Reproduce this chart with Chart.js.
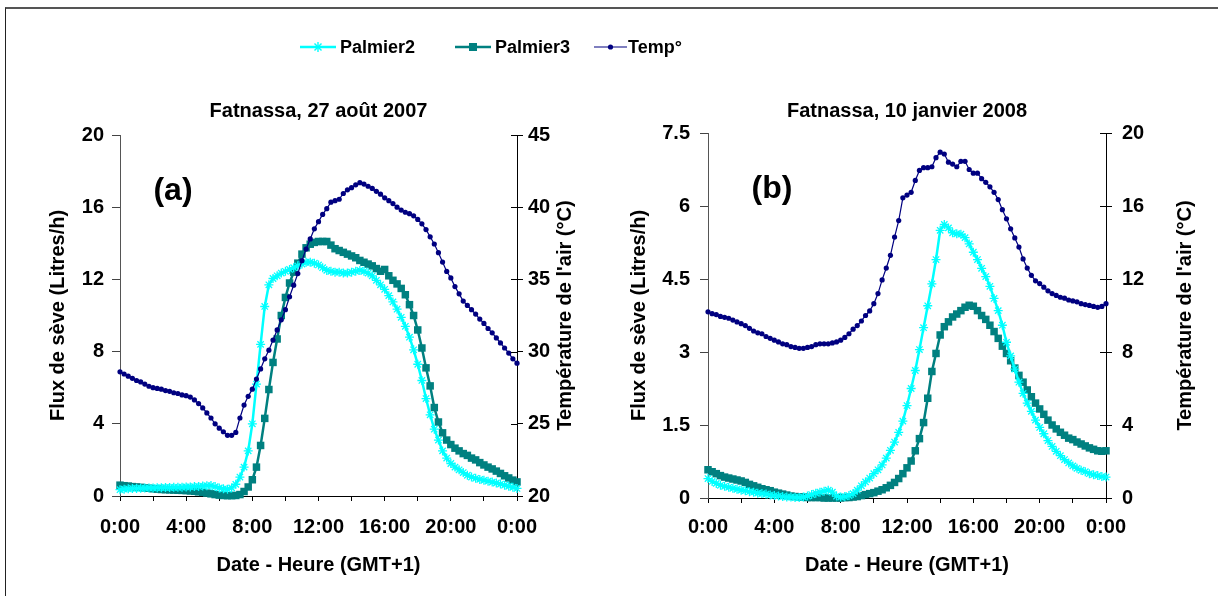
<!DOCTYPE html>
<html>
<head>
<meta charset="utf-8">
<script src="https://cdn.jsdelivr.net/npm/chart.js@4.4.0/dist/chart.umd.min.js"></script>
<style>
  body { margin:0; background:#fff; width:1218px; height:596px; overflow:hidden; position:relative; font-family:"Liberation Sans", Arial, sans-serif; }
  #cadre { position:absolute; left:5px; top:7px; width:1300px; height:700px; border-left:1px solid #222; border-top:2px solid #555; }
  canvas { position:absolute; top:0; }
  #g1 { left:0; }
  #g2 { left:609px; }
  .leg { position:absolute; top:37px; font-weight:bold; font-size:18px; line-height:20px; color:#000; }
  .ico { position:absolute; top:37px; }
</style>
</head>
<body>
<div id="cadre"></div>
<canvas id="g1" width="609" height="596"></canvas>
<canvas id="g2" width="609" height="596"></canvas>

<svg class="ico" style="left:300px" width="36" height="20"><line x1="0" y1="10" x2="36" y2="10" stroke="#00ffff" stroke-width="2.5"/><g stroke="#00ffff" stroke-width="1.4"><line x1="13" y1="10" x2="23" y2="10"/><line x1="18" y1="5" x2="18" y2="15"/><line x1="14.5" y1="6.5" x2="21.5" y2="13.5"/><line x1="14.5" y1="13.5" x2="21.5" y2="6.5"/></g></svg>
<span class="leg" style="left:340px">Palmier2</span>
<svg class="ico" style="left:455px" width="36" height="20"><line x1="0" y1="10" x2="36" y2="10" stroke="#008080" stroke-width="2.5"/><rect x="14" y="6" width="8" height="8" fill="#008080"/></svg>
<span class="leg" style="left:495px">Palmier3</span>
<svg class="ico" style="left:594px" width="33" height="20"><line x1="0" y1="10" x2="33" y2="10" stroke="#000080" stroke-width="1.2"/><circle cx="16.5" cy="10" r="2.6" fill="#000080"/></svg>
<span class="leg" style="left:628px">Temp°</span>

<script>
// pas de temps : 15 min sur 24 h
const heures = [];
for (let i = 0; i <= 96; i++) heures.push(i / 4);
const etiquettesX = ['0:00', '4:00', '8:00', '12:00', '16:00', '20:00', '0:00'];

// 27 août 2007
const palmier2Aout = [
  0.35,0.38,0.40,0.42, 0.42,0.43,0.44,0.45, 0.45,0.46,0.46,0.47, 0.47,0.48,0.48,0.49,
  0.50,0.50,0.52,0.53, 0.55,0.57,0.58,0.52, 0.45,0.40,0.38,0.45, 0.65,1.05,1.6,2.5,
  4.0,6.2,8.4,10.5, 11.7,12.05,12.2,12.35, 12.45,12.55,12.65,12.75, 12.85,12.95,12.95,12.9,
  12.8,12.65,12.5,12.45, 12.4,12.4,12.35,12.35, 12.4,12.45,12.5,12.45, 12.35,12.2,11.95,11.7,
  11.45,11.1,10.75,10.35, 9.9,9.4,8.8,8.1, 7.3,6.4,5.4,4.5, 3.7,3.1,2.5,2.1,
  1.8,1.6,1.45,1.3, 1.15,1.05,0.98,0.92, 0.87,0.82,0.77,0.72, 0.66,0.6,0.54,0.48,
  0.42
];
const palmier3Aout = [
  0.6,0.57,0.55,0.52, 0.5,0.48,0.45,0.43, 0.4,0.38,0.36,0.35, 0.34,0.33,0.32,0.31,
  0.3,0.28,0.26,0.23, 0.2,0.16,0.12,0.08, 0.05,0.03,0.02,0.02, 0.03,0.08,0.25,0.5,
  0.9,1.6,2.8,4.3, 5.9,7.4,8.7,10.0, 11.0,11.8,12.4,12.9, 13.4,13.75,13.95,14.05,
  14.1,14.1,14.1,13.9, 13.7,13.6,13.5,13.4, 13.3,13.2,13.05,12.95, 12.85,12.75,12.6,12.45,
  12.55,12.2,11.95,11.75, 11.5,11.15,10.6,10.0, 9.2,8.2,7.1,6.1, 4.9,4.1,3.5,3.1,
  2.85,2.65,2.5,2.35, 2.25,2.1,2.0,1.85, 1.72,1.6,1.5,1.38, 1.25,1.12,1.0,0.88,
  0.78
];
const tempAout = [
  28.6,28.45,28.3,28.15, 28.0,27.9,27.75,27.6, 27.5,27.45,27.4,27.3, 27.25,27.15,27.1,27.0,
  26.95,26.85,26.65,26.4, 26.1,25.75,25.4,25.0, 24.7,24.45,24.2,24.2, 24.4,25.4,26.3,26.9,
  27.4,28.1,28.8,29.5, 30.1,30.8,31.5,32.2, 32.9,33.8,34.6,35.4, 36.3,37.1,37.8,38.5,
  39.0,39.5,39.9,40.35, 40.45,40.55,40.95,41.2, 41.35,41.55,41.7,41.6, 41.45,41.3,41.1,40.9,
  40.65,40.45,40.25,40.0, 39.8,39.65,39.55,39.4, 39.15,38.85,38.45,37.95, 37.45,36.85,36.2,35.55,
  35.1,34.5,34.0,33.5, 33.2,32.9,32.6,32.25, 31.95,31.6,31.3,30.95, 30.6,30.25,29.9,29.5,
  29.2
];

// 10 janvier 2008
const palmier2Janv = [
  0.4,0.34,0.3,0.26, 0.24,0.22,0.2,0.18, 0.16,0.15,0.13,0.12, 0.1,0.09,0.08,0.06,
  0.05,0.04,0.03,0.02, 0.02,0.01,0.01,0.02, 0.04,0.07,0.1,0.12, 0.14,0.16,0.12,0.04,
  0.02,0.03,0.05,0.09, 0.16,0.25,0.33,0.41, 0.5,0.58,0.68,0.82, 0.98,1.15,1.35,1.58,
  1.9,2.25,2.62,3.05, 3.5,3.95,4.4,4.9, 5.5,5.62,5.55,5.45, 5.43,5.42,5.35,5.22,
  5.05,4.9,4.72,4.55, 4.35,4.1,3.85,3.55, 3.2,2.92,2.65,2.38, 2.15,1.95,1.78,1.6,
  1.45,1.32,1.18,1.06, 0.96,0.87,0.79,0.72, 0.66,0.61,0.57,0.54, 0.5,0.48,0.46,0.44,
  0.43
];
const palmier3Janv = [
  0.58,0.54,0.5,0.46, 0.43,0.41,0.39,0.37, 0.35,0.32,0.28,0.25, 0.22,0.19,0.17,0.15,
  0.12,0.1,0.08,0.06, 0.04,0.03,0.02,0.02, 0.01,0.01,0.01,0.01, 0,0,0,0,
  0,0.01,0.01,0.02, 0.03,0.05,0.07,0.09, 0.11,0.14,0.17,0.21, 0.26,0.32,0.4,0.5,
  0.62,0.76,0.97,1.22, 1.55,2.05,2.6,2.97, 3.35,3.52,3.62,3.72, 3.78,3.85,3.92,3.96,
  3.94,3.85,3.75,3.67, 3.55,3.42,3.28,3.12, 2.97,2.82,2.67,2.52, 2.38,2.22,2.08,1.95,
  1.83,1.72,1.6,1.5, 1.42,1.35,1.29,1.23, 1.2,1.15,1.11,1.07, 1.03,1.0,0.97,0.96,
  0.97
];
const tempJanv = [
  10.2,10.1,10.05,9.95, 9.9,9.85,9.75,9.65, 9.55,9.45,9.3,9.15, 9.05,9.0,8.85,8.75,
  8.65,8.55,8.45,8.4, 8.3,8.25,8.2,8.2, 8.25,8.3,8.4,8.45, 8.45,8.45,8.5,8.55,
  8.65,8.8,9.0,9.25, 9.45,9.7,10.0,10.25, 10.65,11.2,11.95,12.6, 13.3,14.3,15.2,16.45,
  16.6,16.75,17.4,17.95, 18.1,18.1,18.15,18.65, 18.95,18.85,18.4,18.3, 18.15,18.45,18.45,18.0,
  17.8,17.8,17.5,17.3, 17.05,16.75,16.35,15.8, 15.3,14.75,14.25,13.75, 13.1,12.6,12.2,11.9,
  11.75,11.55,11.35,11.2, 11.1,11.0,10.95,10.85, 10.8,10.75,10.65,10.6, 10.55,10.5,10.45,10.5,
  10.65
];

const police = '"Liberation Sans", Arial, sans-serif';
const noir = '#000';

function serie(valeurs) {
  return valeurs.map((v, i) => ({ x: heures[i], y: v }));
}

// petits traits vers l'intérieur sur l'axe de droite, titre de droite et lettre (a)/(b)
const extras = {
  id: 'extras',
  afterDraw(chart, args, o) {
    const { ctx, chartArea, scales } = chart;
    const y1 = scales.y1;
    ctx.save();
    ctx.strokeStyle = noir;
    ctx.lineWidth = 1;
    y1.ticks.forEach(t => {
      const py = Math.round(y1.getPixelForValue(t.value)) + 0.5;
      ctx.beginPath();
      ctx.moveTo(chartArea.right - 6, py);
      ctx.lineTo(chartArea.right, py);
      ctx.stroke();
    });
    ctx.fillStyle = noir;
    ctx.textAlign = 'center';
    ctx.textBaseline = 'middle';
    ctx.font = 'bold 32px ' + police;
    ctx.fillText(o.lettre, chartArea.left + o.dx, chartArea.top + o.dy);
    ctx.translate(o.xTitre, (chartArea.top + chartArea.bottom) / 2);
    ctx.rotate(-Math.PI / 2);
    ctx.font = 'bold 20px ' + police;
    ctx.fillText("Température de l'air (°C)", 0, 0);
    ctx.restore();
  }
};

function creerGraphique(id, p) {
  const f = { family: police, size: 20, weight: 'bold' };
  return new Chart(document.getElementById(id), {
    type: 'line',
    data: {
      datasets: [
        { label: 'Temp°', data: serie(p.temp), yAxisID: 'y1', order: 0,
          borderColor: '#000080', backgroundColor: '#000080', borderWidth: 1.2,
          pointStyle: 'circle', pointRadius: 2.6, pointBorderWidth: 0 },
        { label: 'Palmier2', data: serie(p.p2), yAxisID: 'y', order: 1,
          borderColor: '#00ffff', backgroundColor: '#00ffff', borderWidth: 2.5,
          pointStyle: 'star', pointRadius: 4.5, pointBorderWidth: 1.3 },
        { label: 'Palmier3', data: serie(p.p3), yAxisID: 'y', order: 2,
          borderColor: '#008080', backgroundColor: '#008080', borderWidth: 2.5,
          pointStyle: 'rect', pointRadius: 5.3, pointBorderWidth: 0 }
      ]
    },
    options: {
      responsive: false,
      animation: false,
      devicePixelRatio: 1,
      clip: false,
      elements: { line: { tension: 0 } },
      layout: { padding: 0 },
      plugins: {
        legend: { display: false },
        tooltip: { enabled: false },
        title: { display: true, text: p.titre, fullSize: false, color: noir,
                 font: { family: police, size: 20, weight: 'bold' },
                 padding: { top: 99, bottom: p.titreBas } },
        extras: { lettre: p.lettre, dx: p.dx, dy: p.dy, xTitre: p.xTitre }
      },
      scales: {
        x: {
          type: 'linear', position: 'bottom', min: 0, max: 24,
          ticks: { stepSize: 2, autoSkip: false, maxRotation: 0, padding: p.padX, color: noir, font: f,
                   callback: v => (v % 4 === 0 ? etiquettesX[v / 4] : '') },
          grid: { drawOnChartArea: false, tickLength: 5, color: noir },
          border: { color: noir, width: 1 },
          title: { display: true, text: 'Date - Heure (GMT+1)', color: noir, font: f, padding: { top: 0, bottom: 19 } },
          afterFit: s => { s.height = p.hautX; }
        },
        y: {
          position: 'left', min: 0, max: p.maxFlux,
          ticks: { stepSize: p.pasFlux, padding: p.padG, color: noir, font: f },
          grid: { drawOnChartArea: false, tickLength: 8, color: '#444' },
          border: { color: '#555', width: 1 },
          title: { display: true, text: 'Flux de sève (Litres/h)', color: noir, font: f, padding: { top: p.titreG, bottom: 0 } },
          afterFit: s => { s.width = p.largG; }
        },
        y1: {
          position: 'right', min: p.minT, max: p.maxT,
          ticks: { stepSize: p.pasT, padding: p.padD, color: noir, font: f },
          grid: { drawOnChartArea: false, tickLength: 6, color: noir },
          border: { color: noir, width: 1 },
          afterFit: s => { s.width = p.largD; }
        }
      }
    },
    plugins: [extras]
  });
}

creerGraphique('g1', {
  titre: 'Fatnassa, 27 août 2007', titreBas: 12,
  p2: palmier2Aout, p3: palmier3Aout, temp: tempAout,
  maxFlux: 20, pasFlux: 4, minT: 20, maxT: 45, pasT: 5,
  largG: 120, largD: 92, hautX: 100, padX: 14, padG: 8, padD: 5, titreG: 46,
  lettre: '(a)', dx: 53, dy: 56, xTitre: 565
});

creerGraphique('g2', {
  titre: 'Fatnassa, 10 janvier 2008', titreBas: 10,
  p2: palmier2Janv, p3: palmier3Janv, temp: tempJanv,
  maxFlux: 7.5, pasFlux: 1.5, minT: 0, maxT: 20, pasT: 4,
  largG: 99, largD: 112, hautX: 98, padX: 12, padG: 10, padD: 10, titreG: 18,
  lettre: '(b)', dx: 64, dy: 56, xTitre: 576
});
</script>
</body>
</html>
